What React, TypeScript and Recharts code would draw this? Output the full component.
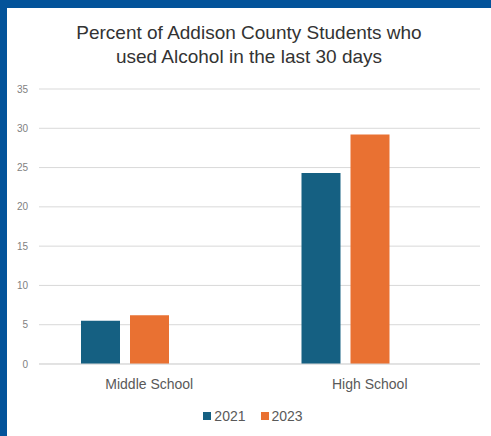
import React from "react";
import { BarChart, Bar, XAxis, YAxis, CartesianGrid, Legend } from "recharts";

const categories = ["Middle School", "High School"];
const values2021 = [5.5, 24.3];
const values2023 = [6.2, 29.2];
const yTicks = [0, 5, 10, 15, 20, 25, 30, 35];
const titleLines = ["Percent of Addison County Students who", "used Alcohol in the last 30 days"];

const COLOR_2021 = "#156082";
const COLOR_2023 = "#E97132";
const FONT = "'Liberation Sans', Arial, sans-serif";

const data = categories.map((c, i) => ({
  name: c,
  y2021: values2021[i],
  y2023: values2023[i],
  blank: null as number | null,
}));

const LegendContent = (props: any) => {
  const items = (props.payload || []).filter((p: any) => p.type !== "none");
  return (
    <div
      style={{
        display: "flex",
        justifyContent: "center",
        height: 16,
        alignItems: "center",
        paddingLeft: 15,
        boxSizing: "border-box",
        width: "100%",
        fontFamily: FONT,
      }}
    >
      {items.map((it: any, i: number) => (
        <div
          key={i}
          style={{ display: "flex", alignItems: "center", marginLeft: i === 0 ? 0 : 15 }}
        >
          <div style={{ width: 8, height: 8, background: it.color, marginRight: 3 }} />
          <span style={{ fontSize: 14, color: "#595959", lineHeight: "16px" }}>{it.value}</span>
        </div>
      ))}
    </div>
  );
};

export default function App() {
  return (
    <div
      style={{
        position: "absolute",
        left: 0,
        top: 0,
        width: 491,
        height: 436,
        background: "#03539a",
        overflow: "hidden",
      }}
    >
      <div
        style={{
          position: "absolute",
          left: 7,
          top: 8,
          right: 0,
          bottom: 0,
          background: "#ffffff",
        }}
      />
      <div
        style={{
          position: "absolute",
          left: 7,
          right: 0,
          top: 20.7,
          textAlign: "center",
          fontFamily: FONT,
          fontSize: 19,
          lineHeight: "24.5px",
          color: "#333333",
        }}
      >
        {titleLines.map((l, i) => (
          <div key={i}>{l}</div>
        ))}
      </div>
      <div style={{ position: "absolute", left: 0, top: 0 }}>
        <BarChart
          width={491}
          height={436}
          data={data}
          margin={{ top: 89, right: 11, bottom: 26, left: 0 }}
          barCategoryGap={42}
          barGap={10}
        >
          <CartesianGrid vertical={false} stroke="#d9d9d9" />
          <XAxis
            dataKey="name"
            axisLine={{ stroke: "#d9d9d9" }}
            tickLine={false}
            tickSize={0}
            tickMargin={15}
            height={30}
            tick={{ fontSize: 14, fill: "#595959", fontFamily: FONT }}
          />
          <YAxis
            domain={[0, 35]}
            ticks={yTicks}
            axisLine={false}
            tickLine={false}
            tickSize={0}
            tickMargin={11}
            width={39}
            tick={{ fontSize: 10, fill: "#7f7f7f", fontFamily: FONT }}
          />
          <Legend
            content={<LegendContent />}
            verticalAlign="bottom"
            wrapperStyle={{ left: 0, width: 491, top: 408 }}
          />
          <Bar dataKey="y2021" name="2021" fill={COLOR_2021} isAnimationActive={false} />
          <Bar dataKey="y2023" name="2023" fill={COLOR_2023} isAnimationActive={false} />
          <Bar dataKey="blank" name="" fill="transparent" legendType="none" isAnimationActive={false} />
        </BarChart>
      </div>
    </div>
  );
}
